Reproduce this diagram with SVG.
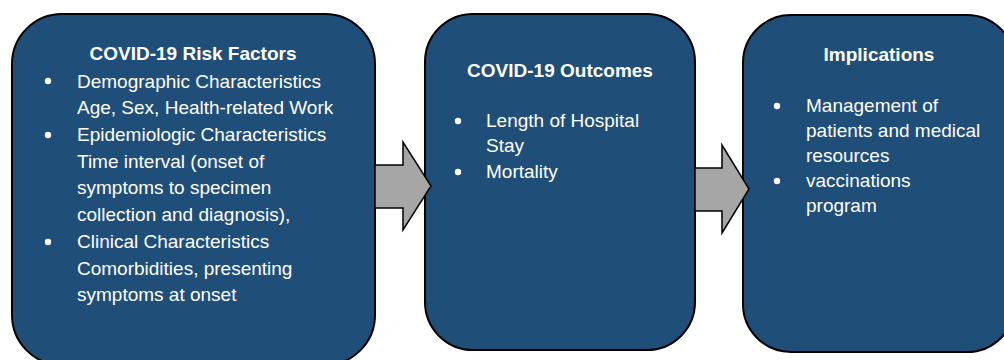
<svg xmlns="http://www.w3.org/2000/svg" width="1004" height="360" viewBox="0 0 1004 360">
<style>
.box{fill:#1F4E79;stroke:#000;stroke-width:2}
.arr{fill:#A6A6A6;stroke:#000;stroke-width:1.5;stroke-linejoin:miter}
text{font-family:"Liberation Sans",Arial,sans-serif;fill:#fff;font-size:19px}
.t{font-weight:bold;text-anchor:middle}
.b{fill:#fff}
</style>
<rect width="1004" height="360" fill="#fff"/>
<g id="risk-factors">
<rect class="box" x="12" y="14" width="363" height="351" rx="50" ry="50"/>
<text class="t" x="193" y="60">COVID-19 Risk Factors</text>
<circle class="b" cx="48" cy="81" r="3.2"/>
<circle class="b" cx="48" cy="135" r="3.2"/>
<circle class="b" cx="48" cy="242" r="3.2"/>
<text x="77" y="88">Demographic Characteristics</text>
<text x="77" y="114">Age, Sex, Health-related Work</text>
<text x="77" y="141">Epidemiologic Characteristics</text>
<text x="77" y="168">Time interval (onset of</text>
<text x="77" y="194">symptoms to specimen</text>
<text x="77" y="221">collection and diagnosis),</text>
<text x="77" y="248">Clinical Characteristics</text>
<text x="77" y="275">Comorbidities, presenting</text>
<text x="77" y="301">symptoms at onset</text>
</g>
<g id="outcomes">
<rect class="box" x="425" y="14" width="270" height="336" rx="48" ry="48"/>
<text class="t" x="560" y="77">COVID-19 Outcomes</text>
<circle class="b" cx="458" cy="121" r="3.2"/>
<circle class="b" cx="458" cy="172" r="3.2"/>
<text x="486" y="127">Length of Hospital</text>
<text x="486" y="152">Stay</text>
<text x="486" y="178">Mortality</text>
</g>
<g id="implications">
<rect class="box" x="743" y="15" width="272" height="337" rx="48" ry="48"/>
<text class="t" x="879" y="61">Implications</text>
<circle class="b" cx="777" cy="106" r="3.2"/>
<circle class="b" cx="777" cy="181" r="3.2"/>
<text x="806" y="112">Management of</text>
<text x="806" y="137">patients and medical</text>
<text x="806" y="162">resources</text>
<text x="806" y="187">vaccinations</text>
<text x="806" y="212">program</text>
</g>
<g id="connectors">
<polygon class="arr" points="375,165 403,165 403,142 431,186 403,230 403,208 375,208"/>
<polygon class="arr" points="695,168 722,168 722,145 749,189 722,233 722,211 695,211"/>
</g>
</svg>
